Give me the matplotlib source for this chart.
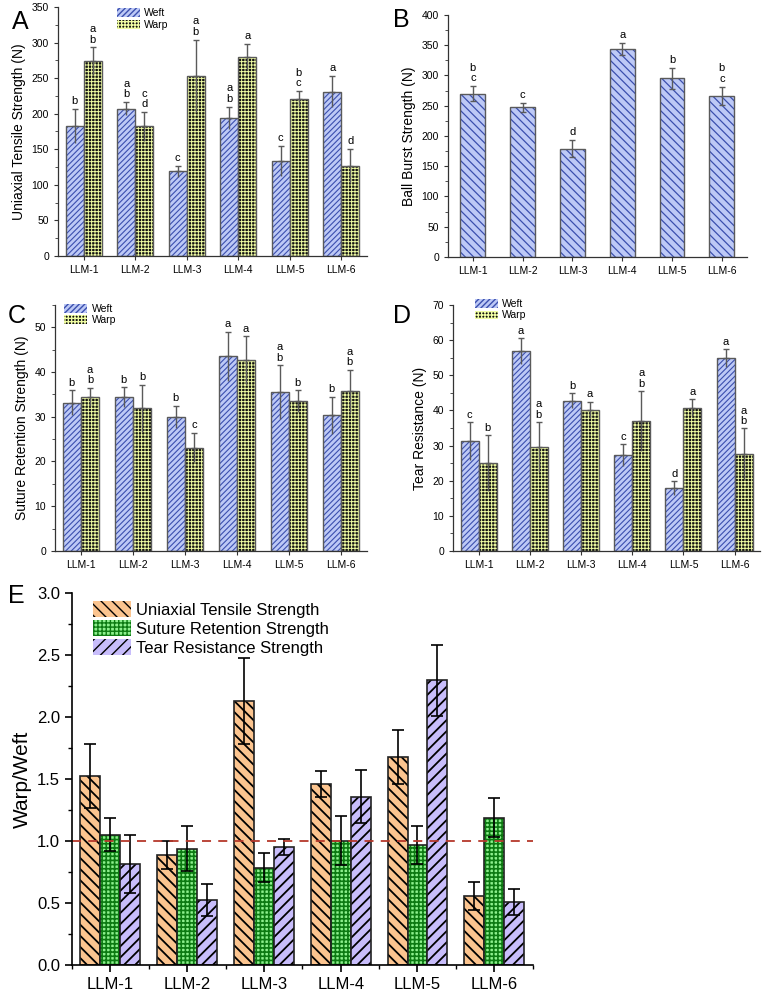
import numpy as np
import matplotlib
matplotlib.use("Agg")
import matplotlib.pyplot as plt

plt.rcParams['font.family'] = ['Liberation Sans', 'DejaVu Sans']

groups = ['LLM-1', 'LLM-2', 'LLM-3', 'LLM-4', 'LLM-5', 'LLM-6']

# A: uniaxial tensile strength (N)
uts_weft = [183, 207, 119, 194, 134, 231]
uts_weft_err = [24, 9, 8, 16, 21, 22]
uts_warp = [274, 182, 253, 280, 221, 127]
uts_warp_err = [19, 20, 51, 18, 11, 24]
uts_weft_lab = ['b', 'a\nb', 'c', 'a\nb', 'c', 'a']
uts_warp_lab = ['a\nb', 'c\nd', 'a\nb', 'a', 'b\nc', 'd']

# B: ball burst strength (N)
burst = [270, 247, 179, 343, 295, 266]
burst_err = [12, 8, 14, 10, 17, 15]
burst_lab = ['b\nc', 'c', 'd', 'a', 'b', 'b\nc']

# C: suture retention strength (N)
srs_weft = [33.1, 34.4, 30.0, 43.5, 35.5, 30.3]
srs_weft_err = [2.8, 2.2, 2.4, 5.5, 6.0, 4.2]
srs_warp = [34.4, 31.9, 23.1, 42.7, 33.5, 35.7]
srs_warp_err = [2.0, 5.3, 3.3, 5.3, 2.4, 4.8]
srs_weft_lab = ['b', 'b', 'b', 'a', 'a\nb', 'b']
srs_warp_lab = ['a\nb', 'b', 'c', 'a', 'b', 'a\nb']

# D: tear resistance (N)
tr_weft = [31.3, 56.9, 42.8, 27.2, 17.9, 54.9]
tr_weft_err = [5.5, 3.8, 2.1, 3.1, 2.1, 2.5]
tr_warp = [25.1, 29.6, 40.2, 37.0, 40.8, 27.7]
tr_warp_err = [8.0, 7.2, 2.3, 8.6, 2.4, 7.2]
tr_weft_lab = ['c', 'a', 'b', 'c', 'd', 'a']
tr_warp_lab = ['b', 'a\nb', 'a', 'a\nb', 'a', 'a\nb']

# E: warp/weft ratios
ratio_uts = [1.525, 0.888, 2.128, 1.458, 1.679, 0.557]
ratio_uts_err = [0.26, 0.115, 0.345, 0.105, 0.218, 0.113]
ratio_srs = [1.052, 0.939, 0.786, 1.003, 0.969, 1.189]
ratio_srs_err = [0.135, 0.18, 0.115, 0.2, 0.156, 0.159]
ratio_trs = [0.812, 0.525, 0.950, 1.359, 2.295, 0.511]
ratio_trs_err = [0.235, 0.13, 0.065, 0.21, 0.288, 0.105]

WEFT_FC, WEFT_HC = '#bdc9f6', '#3b4fae'
# warp look: black dots on yellow-green -> black fill with yellow grid lines
WARP_FC, WARP_HC = '#111111', '#effca2'
EDGE = '#5a5a5a'

x = np.arange(1, len(groups) + 1)


def hbar(ax, pos, vals, w, fc, hc, hatch, edge, lw=1.0, label=None, hlw=1.0):
    bars = ax.bar(pos, vals, w, color=fc, edgecolor=hc, hatch=hatch, linewidth=0, label=label)
    for b in bars:
        if hasattr(b, 'set_hatch_linewidth'):
            b.set_hatch_linewidth(hlw)
    ax.bar(pos, vals, w, fill=False, edgecolor=edge, linewidth=lw)
    return bars


def style_small(ax, ymax, major, ylabel):
    ax.set_xlim(0.5, 6.5)
    ax.set_ylim(0, ymax)
    ax.set_yticks(np.arange(0, ymax + 0.1, major))
    ax.yaxis.set_minor_locator(matplotlib.ticker.MultipleLocator(major / 2))
    ax.set_xticks(x)
    ax.set_xticklabels(groups)
    for s in ['top', 'right']:
        ax.spines[s].set_visible(False)
    for s in ['left', 'bottom']:
        ax.spines[s].set_color('#333333')
        ax.spines[s].set_linewidth(0.9)
    ax.tick_params(labelsize=7.5, direction='out', length=3, width=0.8, color='#333333')
    ax.tick_params(which='minor', length=2, width=0.6, color='#333333')
    ax.set_ylabel(ylabel, fontsize=10)


def letters(ax, pos, tops, labs, off):
    for p, t, l in zip(pos, tops, labs):
        ax.text(p, t + off, l, ha='center', va='bottom', fontsize=8, linespacing=1.05)


def two_series(ax, weft, weft_err, warp, warp_err, weft_lab, warp_lab, off):
    w = 0.35
    hbar(ax, x - w / 2, weft, w, WEFT_FC, WEFT_HC, '//////', EDGE, label='Weft', hlw=0.8)
    hbar(ax, x + w / 2, warp, w, WARP_FC, WARP_HC, '+++++', EDGE, label='Warp', hlw=0.7)
    ax.errorbar(x - w / 2, weft, yerr=[np.zeros(6), weft_err], fmt='none', ecolor=EDGE, elinewidth=1, capsize=2.5)
    ax.errorbar(x + w / 2, warp, yerr=[np.zeros(6), warp_err], fmt='none', ecolor=EDGE, elinewidth=1, capsize=2.5)
    ax.errorbar(x - w / 2, weft, yerr=[weft_err, np.zeros(6)], fmt='none', ecolor=EDGE, elinewidth=1, capsize=0)
    ax.errorbar(x + w / 2, warp, yerr=[warp_err, np.zeros(6)], fmt='none', ecolor=EDGE, elinewidth=1, capsize=0)
    letters(ax, x - w / 2, np.add(weft, weft_err), weft_lab, off)
    letters(ax, x + w / 2, np.add(warp, warp_err), warp_lab, off)


def small_legend(ax, xa, ya):
    ax.legend(loc='upper left', bbox_to_anchor=(xa, ya), frameon=False, fontsize=7.5,
              handlelength=2.2, handleheight=0.9, labelspacing=0.15, borderpad=0.1,
              handletextpad=0.4)


fig = plt.figure(figsize=(7.64, 9.92), dpi=100)

# Panel A
axA = fig.add_axes([0.0759, 0.742, 0.4045, 0.251])
two_series(axA, uts_weft, uts_weft_err, uts_warp, uts_warp_err, uts_weft_lab, uts_warp_lab, 4)
style_small(axA, 350, 50, 'Uniaxial Tensile Strength (N)')
small_legend(axA, 0.17, 1.02)

# Panel B
axB = fig.add_axes([0.5864, 0.741, 0.391, 0.244])
hbar(axB, x, burst, 0.5, WEFT_FC, WEFT_HC, '\\\\\\\\', EDGE, hlw=0.9)
axB.errorbar(x, burst, yerr=burst_err, fmt='none', ecolor=EDGE, elinewidth=1, capsize=2.5)
letters(axB, x, np.add(burst, burst_err), burst_lab, 5)
style_small(axB, 400, 50, 'Ball Burst Strength (N)')

# Panel C
axC = fig.add_axes([0.072, 0.4446, 0.408, 0.248])
two_series(axC, srs_weft, srs_weft_err, srs_warp, srs_warp_err, srs_weft_lab, srs_warp_lab, 0.6)
style_small(axC, 55, 10, 'Suture Retention Strength (N)')
axC.set_yticks(np.arange(0, 51, 10))
small_legend(axC, 0.01, 1.03)

# Panel D
axD = fig.add_axes([0.593, 0.4446, 0.402, 0.248])
two_series(axD, tr_weft, tr_weft_err, tr_warp, tr_warp_err, tr_weft_lab, tr_warp_lab, 0.6)
style_small(axD, 70, 10, 'Tear Resistance (N)')
small_legend(axD, 0.05, 1.05)

# Panel E
axE = fig.add_axes([0.0942, 0.0272, 0.603, 0.375])
w = 0.26
hbar(axE, x - w, ratio_uts, w, '#fbc48f', '#000000', '\\\\\\', '#222222', 1.2, 'Uniaxial Tensile Strength', hlw=1.3)
hbar(axE, x, ratio_srs, w, '#8df08d', '#0c7a12', '++++', '#222222', 1.2, 'Suture Retention Strength', hlw=1.2)
hbar(axE, x + w, ratio_trs, w, '#c8bdfb', '#000000', '///', '#222222', 1.2, 'Tear Resistance Strength', hlw=1.3)
for off, vals, err in [(-w, ratio_uts, ratio_uts_err), (0, ratio_srs, ratio_srs_err), (w, ratio_trs, ratio_trs_err)]:
    axE.errorbar(x + off, vals, yerr=err, fmt='none', ecolor='black', elinewidth=1.2, capsize=4, capthick=1.2)
axE.axhline(1.0, color='#b5382b', linestyle=(0, (5, 4)), linewidth=1.3)
axE.set_xlim(0.5, 6.5)
axE.set_ylim(0, 3.0)
axE.set_yticks(np.arange(0, 3.01, 0.5))
axE.yaxis.set_minor_locator(matplotlib.ticker.MultipleLocator(0.25))
axE.set_xticks(x)
axE.set_xticklabels(groups)
axE.xaxis.set_minor_locator(matplotlib.ticker.FixedLocator(np.arange(0.5, 6.6, 1)))
for s in ['top', 'right']:
    axE.spines[s].set_visible(False)
for s in ['left', 'bottom']:
    axE.spines[s].set_linewidth(1.2)
axE.tick_params(labelsize=12, direction='out', length=5, width=1.2)
axE.tick_params(which='minor', length=3, width=1.0)
axE.set_ylabel('Warp/Weft', fontsize=15)
axE.legend(loc='upper left', bbox_to_anchor=(0.02, 1.01), frameon=False, fontsize=12,
           handlelength=2.3, handleheight=1.1, labelspacing=0.15, borderpad=0.2, handletextpad=0.3)

for lab, px, py in [('A', 12, 22), ('B', 393, 20), ('C', 8, 316), ('D', 393, 316), ('E', 8, 596)]:
    fig.text(px / 764, 1 - py / 992, lab, fontsize=18, ha='left', va='center')

fig.savefig('out.png', dpi=100)
